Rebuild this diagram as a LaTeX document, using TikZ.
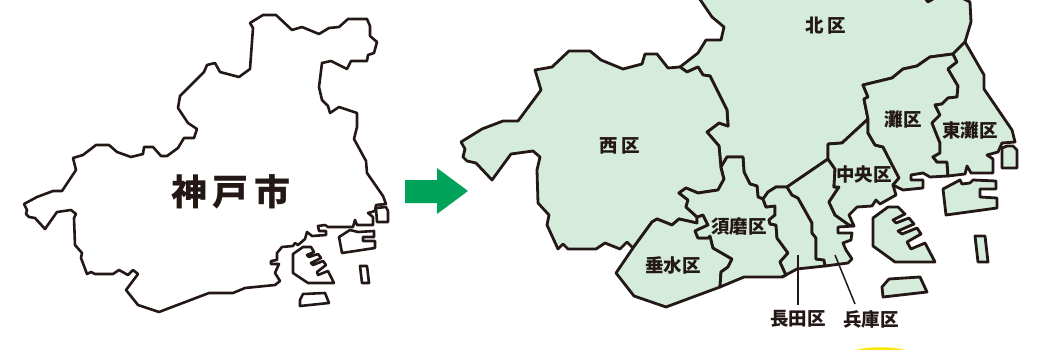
\documentclass[tikz,border=0pt]{standalone}
\usepackage{fontspec}
\newfontfamily\cjk{Noto Sans CJK JP}
\definecolor{ink}{HTML}{231815}
\definecolor{ward}{HTML}{D5EBDB}
\definecolor{go}{HTML}{00A359}
\definecolor{sun}{HTML}{FFE600}
\tikzset{
  outline/.style={draw=ink,line width=2.6pt,line join=round,fill=white},
  region/.style={draw=ink,line width=2.8pt,line join=round,fill=ward},
  wardlabel/.style={font=\cjk\bfseries\fontsize{18.5}{20}\selectfont,text=ink,inner sep=0pt},
  citylabel/.style={font=\cjk\bfseries\fontsize{36}{38}\selectfont,text=ink,inner sep=0pt},
  leader/.style={draw=ink,line width=1.5pt}
}
\begin{document}
\begin{tikzpicture}[x=1pt,y=-1pt]
\useasboundingbox (0,0) rectangle (1039,350);
\begin{scope}
\clip (0,0) rectangle (1039,350);
% left map
\draw[outline] (250,23)--(263,15)--(276,15)--(292,30)--(302,27)--(319,34)--(329,28)--(339,27)--(348,19)--(367,19)--(370,26)--(370,36)--(377,42)--(374,53)--(368,55)--(367,61)--(351,61)--(347,69)--(331,61)--(322,63)--(319,87)--(322,100)--(328,106)--(330,113)--(339,107)--(357,113)--(357,127)--(354,139)--(366,161)--(367,173)--(383,196)--(386,204)--(376,205)--(375,211)--(368,213)--(373,217)--(373,225)--(357,225)--(355,220)--(353,227)--(328,227)--(325,225)--(318,226)--(319,231)--(326,231)--(326,235)--(312,236)--(307,232)--(305,239)--(298,245)--(295,243)--(293,246)--(282,247)--(277,253)--(277,260)--(271,261)--(271,264)--(279,264)--(275,273)--(280,281)--(275,285)--(245,288)--(233,293)--(209,293)--(159,312)--(138,305)--(126,290)--(138,274)--(133,270)--(128,275)--(119,270)--(113,274)--(95,274)--(91,272)--(87,274)--(81,258)--(82,253)--(75,245)--(74,218)--(76,214)--(71,210)--(57,212)--(45,229)--(35,218)--(29,217)--(26,214)--(27,210)--(24,204)--(37,197)--(53,191)--(62,191)--(76,170)--(73,158)--(83,155)--(96,145)--(109,145)--(117,152)--(131,157)--(143,154)--(144,147)--(153,147)--(161,156)--(167,156)--(178,148)--(184,138)--(194,138)--(197,129)--(188,123)--(178,108)--(180,96)--(204,72)--(207,65)--(215,63)--(220,72)--(239,77)--(250,69)--(253,28)--cycle;
\draw[outline] (376,208)--(386,207)--(388,211)--(388,222)--(377,222)--cycle;
\draw[outline] (339,237)--(350,230)--(358,232)--(374,231)--(374,237)--(363,237)--(363,241)--(375,241)--(375,248)--(342,253)--cycle;
\draw[outline] (293,254)--(303,247)--(311,247)--(314,252)--(307,255)--(309,257)--(318,254)--(321,258)--(311,263)--(313,265)--(323,261)--(326,265)--(317,272)--(318,275)--(328,271)--(334,283)--(308,283)--(293,273)--cycle;
\draw[outline] (360,266)--(367,266)--(369,283)--(362,283)--cycle;
\draw[outline] (303,294)--(325,293)--(329,303)--(300,306)--(300,300)--cycle;
% arrow
\fill[go] (405,180)--(437,180)--(437,168)--(468,191)--(437,214)--(437,203)--(405,203)--cycle;
% right map
\draw[region] (697,-5)--(712,17)--(724,27)--(721,40)--(706,40)--(698,53)--(680,67)--(687,72)--(698,67)--(703,75)--(710,76)--(727,110)--(728,126)--(719,123)--(707,132)--(719,146)--(721,167)--(727,157)--(743,157)--(744,172)--(750,184)--(757,186)--(758,197)--(763,199)--(768,192)--(776,187)--(787,187)--(828,159)--(828,144)--(842,143)--(868,119)--(864,99)--(868,97)--(863,85)--(892,78)--(903,69)--(917,66)--(930,57)--(953,54)--(965,42)--(971,22)--(970,2)--(960,-3)--(940,-8)--(933,-1)--(928,2)--(920,-8)--cycle;
\draw[region] (461,142)--(482,129)--(503,121)--(518,121)--(541,90)--(535,70)--(552,67)--(569,51)--(590,51)--(601,60)--(623,69)--(642,64)--(645,54)--(657,54)--(668,68)--(680,67)--(687,72)--(698,67)--(703,75)--(710,76)--(727,110)--(728,126)--(719,123)--(707,132)--(719,146)--(721,168)--(724,179)--(718,190)--(698,193)--(686,188)--(679,193)--(688,200)--(686,207)--(697,217)--(697,223)--(679,219)--(672,225)--(657,219)--(652,222)--(633,248)--(627,242)--(620,249)--(605,243)--(596,249)--(568,249)--(563,244)--(558,249)--(547,225)--(549,215)--(538,203)--(537,170)--(540,157)--(533,151)--(511,154)--(492,180)--(476,163)--(467,161)--(463,157)--(465,149)--cycle;
\draw[region] (633,248)--(616,273)--(634,296)--(666,307)--(720,287)--(721,272)--(728,267)--(732,259)--(713,248)--(710,236)--(708,238)--(698,238)--(695,231)--(708,225)--(703,215)--(697,217)--(697,223)--(679,219)--(672,225)--(657,219)--(652,222)--cycle;
\draw[region] (721,167)--(727,157)--(743,157)--(744,172)--(750,184)--(757,186)--(758,197)--(763,199)--(766,207)--(775,206)--(775,215)--(769,220)--(770,224)--(776,225)--(777,238)--(788,253)--(780,262)--(786,275)--(782,277)--(744,277)--(720,287)--(721,272)--(728,267)--(732,259)--(713,248)--(710,236)--(708,238)--(698,238)--(695,231)--(708,225)--(703,215)--(697,217)--(686,207)--(688,200)--(679,193)--(686,188)--(698,193)--(718,190)--(724,179)--cycle;
\draw[region] (763,199)--(768,192)--(776,187)--(787,187)--(792,195)--(798,198)--(812,223)--(812,233)--(816,238)--(816,259)--(824,260)--(825,266)--(797,269)--(782,277)--(786,275)--(780,262)--(788,253)--(777,238)--(776,225)--(770,224)--(769,220)--(775,215)--(775,206)--(766,207)--cycle;
\draw[region] (787,187)--(828,159)--(835,169)--(834,187)--(839,187)--(829,202)--(835,215)--(849,225)--(854,226)--(838,227)--(838,233)--(852,233)--(851,240)--(843,243)--(846,250)--(852,259)--(848,263)--(825,266)--(824,260)--(816,259)--(816,238)--(812,233)--(812,223)--(798,198)--(792,195)--cycle;
\draw[region] (828,159)--(828,144)--(842,143)--(868,119)--(868,133)--(875,145)--(883,147)--(899,178)--(893,185)--(896,195)--(880,204)--(876,200)--(872,206)--(857,207)--(849,215)--(854,226)--(849,225)--(835,215)--(829,202)--(839,187)--(834,187)--(835,169)--cycle;
\draw[region] (868,119)--(864,99)--(868,97)--(863,85)--(892,78)--(903,69)--(917,66)--(930,57)--(953,54)--(957,62)--(948,69)--(958,86)--(957,97)--(948,98)--(942,104)--(935,105)--(940,115)--(932,123)--(940,143)--(940,153)--(933,157)--(937,162)--(947,162)--(948,176)--(930,177)--(923,173)--(911,175)--(911,180)--(923,180)--(923,188)--(903,190)--(893,185)--(899,178)--(883,147)--(875,145)--(868,133)--cycle;
\draw[region] (953,54)--(965,42)--(984,75)--(984,89)--(1012,130)--(1015,142)--(1002,143)--(998,152)--(987,155)--(993,159)--(993,173)--(971,173)--(967,166)--(965,174)--(948,176)--(947,162)--(937,162)--(933,157)--(940,153)--(940,143)--(932,123)--(940,115)--(935,105)--(942,104)--(948,98)--(957,97)--(958,86)--(948,69)--(957,62)--cycle;
\draw[region] (1002,148)--(1007,146)--(1013,146)--(1017,150)--(1017,168)--(1002,168)--cycle;
\draw[region] (943,189)--(960,180)--(962,184)--(970,183)--(973,180)--(996,181)--(996,189)--(980,189)--(980,197)--(997,198)--(997,208)--(946,215)--cycle;
\draw[region] (873,218)--(888,207)--(898,207)--(905,214)--(893,220)--(896,223)--(909,218)--(914,224)--(898,231)--(902,234)--(917,228)--(921,234)--(907,242)--(911,249)--(925,243)--(935,262)--(895,262)--(873,246)--cycle;
\draw[region] (975,236)--(985,236)--(988,262)--(978,262)--cycle;
\draw[region] (889,279)--(920,277)--(927,292)--(883,297)--(882,287)--cycle;
% leaders
\coordinate (na1) at (798,255); \coordinate (na2) at (798,305);
\coordinate (hy1) at (835,255); \coordinate (hy2) at (855,304);
\draw[leader] (na1)--(na2);
\draw[leader] (hy1)--(hy2);
% yellow edge
\fill[sun] (853,351) .. controls (865,346) and (895,346) .. (908,351) -- cycle;
\end{scope}
% labels
\node[citylabel] (kobe) at (231,192) {神\,戸\,市};
\node[wardlabel] (kita) at (826,26) {北\,区};
\node[wardlabel] (nishi) at (620,146) {西\,区};
\node[wardlabel] (nada) at (903,119) {灘区};
\node[wardlabel] (higashinada) at (970,130) {東灘区};
\node[wardlabel] (chuo) at (864,174) {中央区};
\node[wardlabel] (suma) at (739,226) {須磨区};
\node[wardlabel] (tarumi) at (673,265) {垂水区};
\node[wardlabel] (nagata) at (798,319) {長田区};
\node[wardlabel] (hyogo) at (871,319) {兵庫区};
\end{tikzpicture}
\end{document}
